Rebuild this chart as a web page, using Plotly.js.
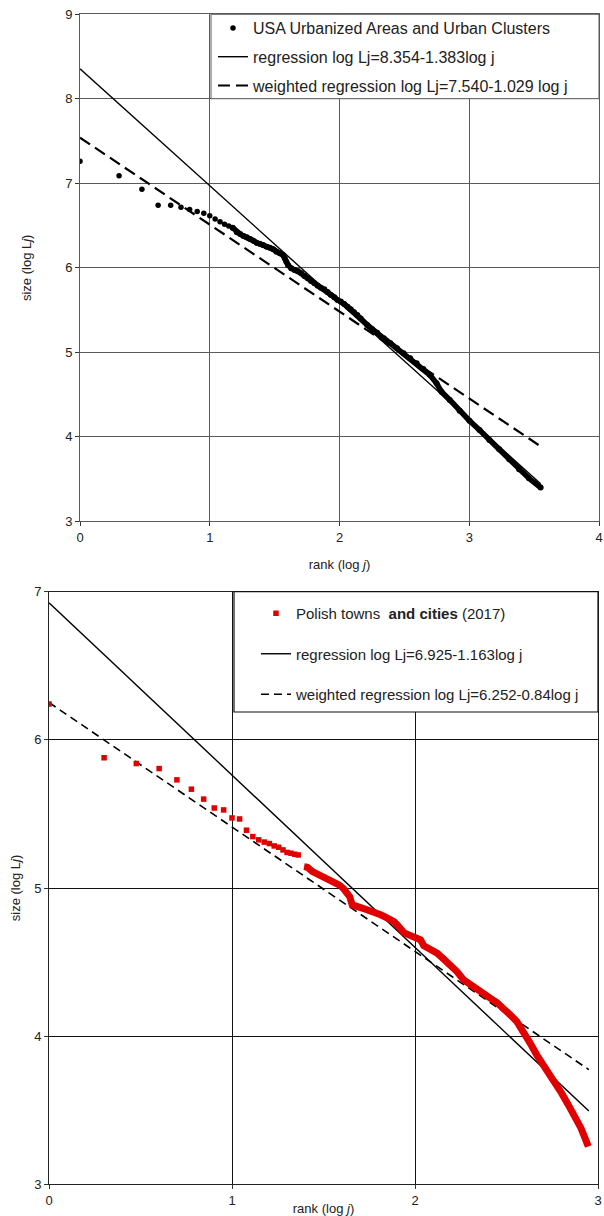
<!DOCTYPE html>
<html>
<head>
<meta charset="utf-8">
<script src="https://cdn.plot.ly/plotly-3.0.1.min.js"></script>
<style>html,body{margin:0;padding:0;background:#fff;}#chart{width:604px;height:1216px;}</style>
</head>
<body>
<div id="chart"></div>
<script>
// ---------- Top chart: USA urbanized areas ----------
const usaRank = [1,2,3,4,5,6,7,8,9,10,11,12,13,14,15];
const usaSize = [7.26,7.09,6.93,6.74,6.74,6.716,6.69,6.666,6.645,6.617,6.578,6.546,6.515,6.495,6.475];
const usaDenseLogRank = [1.176,1.209,1.234,1.260,1.285,1.311,1.336,1.361,1.387,1.412,1.438,1.463,1.489,1.514,1.540,1.565,1.578,1.590,1.603,1.628,1.654,1.679,1.705,1.730,1.756,1.781,1.807,1.832,1.857,1.883,1.908,1.934,1.960,1.985,2.010,2.036,2.061,2.086,2.112,2.137,2.163,2.214,2.252,2.290,2.341,2.392,2.443,2.494,2.545,2.595,2.646,2.697,2.748,2.786,2.850,2.926,3.002,3.079,3.155,3.231,3.308,3.384,3.460,3.550];
const usaDenseLogSize = [6.475,6.42,6.40,6.376,6.361,6.341,6.321,6.297,6.285,6.27,6.25,6.238,6.219,6.19,6.171,6.152,6.112,6.072,6.033,5.994,5.974,5.962,5.935,5.903,5.876,5.844,5.817,5.788,5.765,5.746,5.714,5.678,5.651,5.619,5.60,5.572,5.54,5.509,5.473,5.441,5.40,5.323,5.272,5.232,5.166,5.107,5.047,4.988,4.929,4.87,4.802,4.731,4.633,4.534,4.436,4.309,4.19,4.08,3.962,3.852,3.734,3.615,3.509,3.40];
const usaRegX = [0, 3.55];
const usaRegA = 8.354, usaRegB = -1.383;
const usaWRegA = 7.540, usaWRegB = -1.029;

// ---------- Bottom chart: Polish towns ----------
const plRank = [1,2,3,4,5,6,7,8,9,10,11,12,13,14,15,16,17,18,19,20,21,22,23];
const plSize = [6.242,5.88,5.84,5.806,5.73,5.667,5.60,5.54,5.527,5.473,5.466,5.39,5.347,5.325,5.31,5.30,5.284,5.275,5.257,5.24,5.235,5.228,5.223];
const plDenseLogRank = [1.394,1.412,1.440,1.458,1.476,1.503,1.531,1.558,1.585,1.607,1.625,1.643,1.657,1.676,1.703,1.730,1.758,1.785,1.812,1.839,1.867,1.885,1.903,1.921,1.939,1.966,2.003,2.030,2.048,2.084,2.121,2.157,2.193,2.229,2.266,2.302,2.338,2.375,2.411,2.447,2.484,2.520,2.556,2.593,2.629,2.665,2.702,2.738,2.765,2.801,2.838,2.874,2.907,2.929,2.947];
const plDenseLogSize = [5.144,5.140,5.111,5.10,5.088,5.077,5.055,5.037,5.021,4.999,4.965,4.942,4.886,4.875,4.868,4.857,4.848,4.834,4.819,4.803,4.792,4.773,4.751,4.729,4.699,4.684,4.661,4.65,4.61,4.587,4.56,4.52,4.481,4.436,4.38,4.346,4.324,4.286,4.256,4.227,4.189,4.144,4.099,4.031,3.953,3.874,3.806,3.75,3.683,3.615,3.536,3.458,3.379,3.312,3.255];
const plRegX = [0, 2.95];
const plRegA = 6.925, plRegB = -1.163;
const plWRegA = 6.252, plWRegB = -0.84;

const log10 = v => Math.log10(v);
const lin = (a, b, xs) => xs.map(x => a + b * x);

const FONT = 'Liberation Sans, Arial, sans-serif';
const RED = '#e00000';

const traces = [
  // top lines
  {x: usaRegX, y: lin(usaRegA, usaRegB, usaRegX), xaxis: 'x', yaxis: 'y', mode: 'lines',
   name: 'regression log Lj=8.354-1.383log j', legend: 'legend', legendgroup: 'a2', legendrank: 2,
   line: {color: '#000', width: 1.4}},
  {x: usaRegX, y: lin(usaWRegA, usaWRegB, usaRegX), xaxis: 'x', yaxis: 'y', mode: 'lines',
   name: 'weighted regression log Lj=7.540-1.029 log j', legend: 'legend', legendgroup: 'a3', legendrank: 3,
   line: {color: '#000', width: 2.2, dash: '12px,6px'}},
  {x: usaDenseLogRank, y: usaDenseLogSize, xaxis: 'x', yaxis: 'y', mode: 'lines+markers', showlegend: false,
   legend: 'legend', legendgroup: 'a1', line: {color: '#000', width: 5.5}, marker: {color: '#000', size: 6}},
  {x: usaRank.map(log10), y: usaSize, xaxis: 'x', yaxis: 'y', mode: 'markers',
   name: 'USA Urbanized Areas and Urban Clusters', legend: 'legend', legendgroup: 'a1', legendrank: 1,
   marker: {color: '#000', size: 5.5, symbol: 'circle'}},
  // bottom lines
  {x: plRegX, y: lin(plRegA, plRegB, plRegX), xaxis: 'x2', yaxis: 'y2', mode: 'lines',
   name: 'regression log Lj=6.925-1.163log j', legend: 'legend2', legendgroup: 'b2', legendrank: 2,
   line: {color: '#000', width: 1.4}},
  {x: plRegX, y: lin(plWRegA, plWRegB, plRegX), xaxis: 'x2', yaxis: 'y2', mode: 'lines',
   name: 'weighted regression log Lj=6.252-0.84log j', legend: 'legend2', legendgroup: 'b3', legendrank: 3,
   line: {color: '#000', width: 1.6, dash: '8px,5px'}},
  {x: plDenseLogRank, y: plDenseLogSize, xaxis: 'x2', yaxis: 'y2', mode: 'lines', showlegend: false,
   legend: 'legend2', legendgroup: 'b1', line: {color: RED, width: 7}},
  {x: plRank.map(log10), y: plSize, xaxis: 'x2', yaxis: 'y2', mode: 'markers',
   name: 'Polish towns&nbsp; <b>and cities</b> (2017)', legend: 'legend2', legendgroup: 'b1', legendrank: 1,
   marker: {color: RED, size: 5.5, symbol: 'square'}}
];

const axTop = {
  showgrid: true, gridcolor: '#5a5a5a', gridwidth: 1, zeroline: false,
  showline: true, mirror: true, linecolor: '#5a5a5a', linewidth: 1,
  ticks: 'outside', ticklen: 4, tickcolor: '#333', tickwidth: 1,
  tickfont: {family: FONT, size: 13, color: '#222'}, fixedrange: true
};
const axBot = Object.assign({}, axTop, {gridcolor: '#111', linecolor: '#222'});

const layout = {
  width: 604, height: 1216,
  margin: {l: 0, r: 0, t: 0, b: 0},
  paper_bgcolor: '#fff', plot_bgcolor: '#fff',
  font: {family: FONT, color: '#222'},
  xaxis: Object.assign({}, axTop, {domain: [80/604, 599/604], range: [0, 4], dtick: 1, anchor: 'y',
    title: {text: 'rank (log <i>j</i>)', font: {family: FONT, size: 13, color: '#222'}, standoff: 15}}),
  yaxis: Object.assign({}, axTop, {domain: [1-521.3/1216, 1-14.3/1216], range: [3, 9], dtick: 1, anchor: 'x',
    title: {text: 'size (log L<i>j</i>)', font: {family: FONT, size: 13, color: '#222'}, standoff: 30}}),
  xaxis2: Object.assign({}, axBot, {domain: [49/604, 598/604], range: [0, 3], dtick: 1, anchor: 'y2',
    title: {text: 'rank (log <i>j</i>)', font: {family: FONT, size: 13, color: '#222'}, standoff: 3}}),
  yaxis2: Object.assign({}, axBot, {domain: [1-1184.3/1216, 1-591.7/1216], range: [3, 7], dtick: 1, anchor: 'x2',
    title: {text: 'size (log L<i>j</i>)', font: {family: FONT, size: 13, color: '#222'}, standoff: 10}}),
  legend: {x: 213/604, y: 1-11/1216, xanchor: 'left', yanchor: 'top', bgcolor: 'rgba(0,0,0,0)', borderwidth: 0,
    font: {family: FONT, size: 16, color: '#222'}, traceorder: 'grouped', tracegroupgap: 5, itemwidth: 30},
  legend2: {x: 256/604, y: 1-597/1216, xanchor: 'left', yanchor: 'top', bgcolor: 'rgba(0,0,0,0)', borderwidth: 0,
    font: {family: FONT, size: 15, color: '#222'}, traceorder: 'grouped', tracegroupgap: 18, itemwidth: 30},
  shapes: [
    {type: 'rect', xref: 'paper', yref: 'paper', x0: 211/604, x1: 599/604, y0: 1-98.7/1216, y1: 1-14.3/1216,
     fillcolor: '#fff', line: {color: '#5a5a5a', width: 1}, layer: 'above'},
    {type: 'rect', xref: 'paper', yref: 'paper', x0: 234/604, x1: 598/604, y0: 1-712/1216, y1: 1-591.7/1216,
     fillcolor: '#fff', line: {color: '#111', width: 1.2}, layer: 'above'}
  ]
};

Plotly.newPlot('chart', traces, layout, {staticPlot: true, displayModeBar: false});
</script>
</body>
</html>
